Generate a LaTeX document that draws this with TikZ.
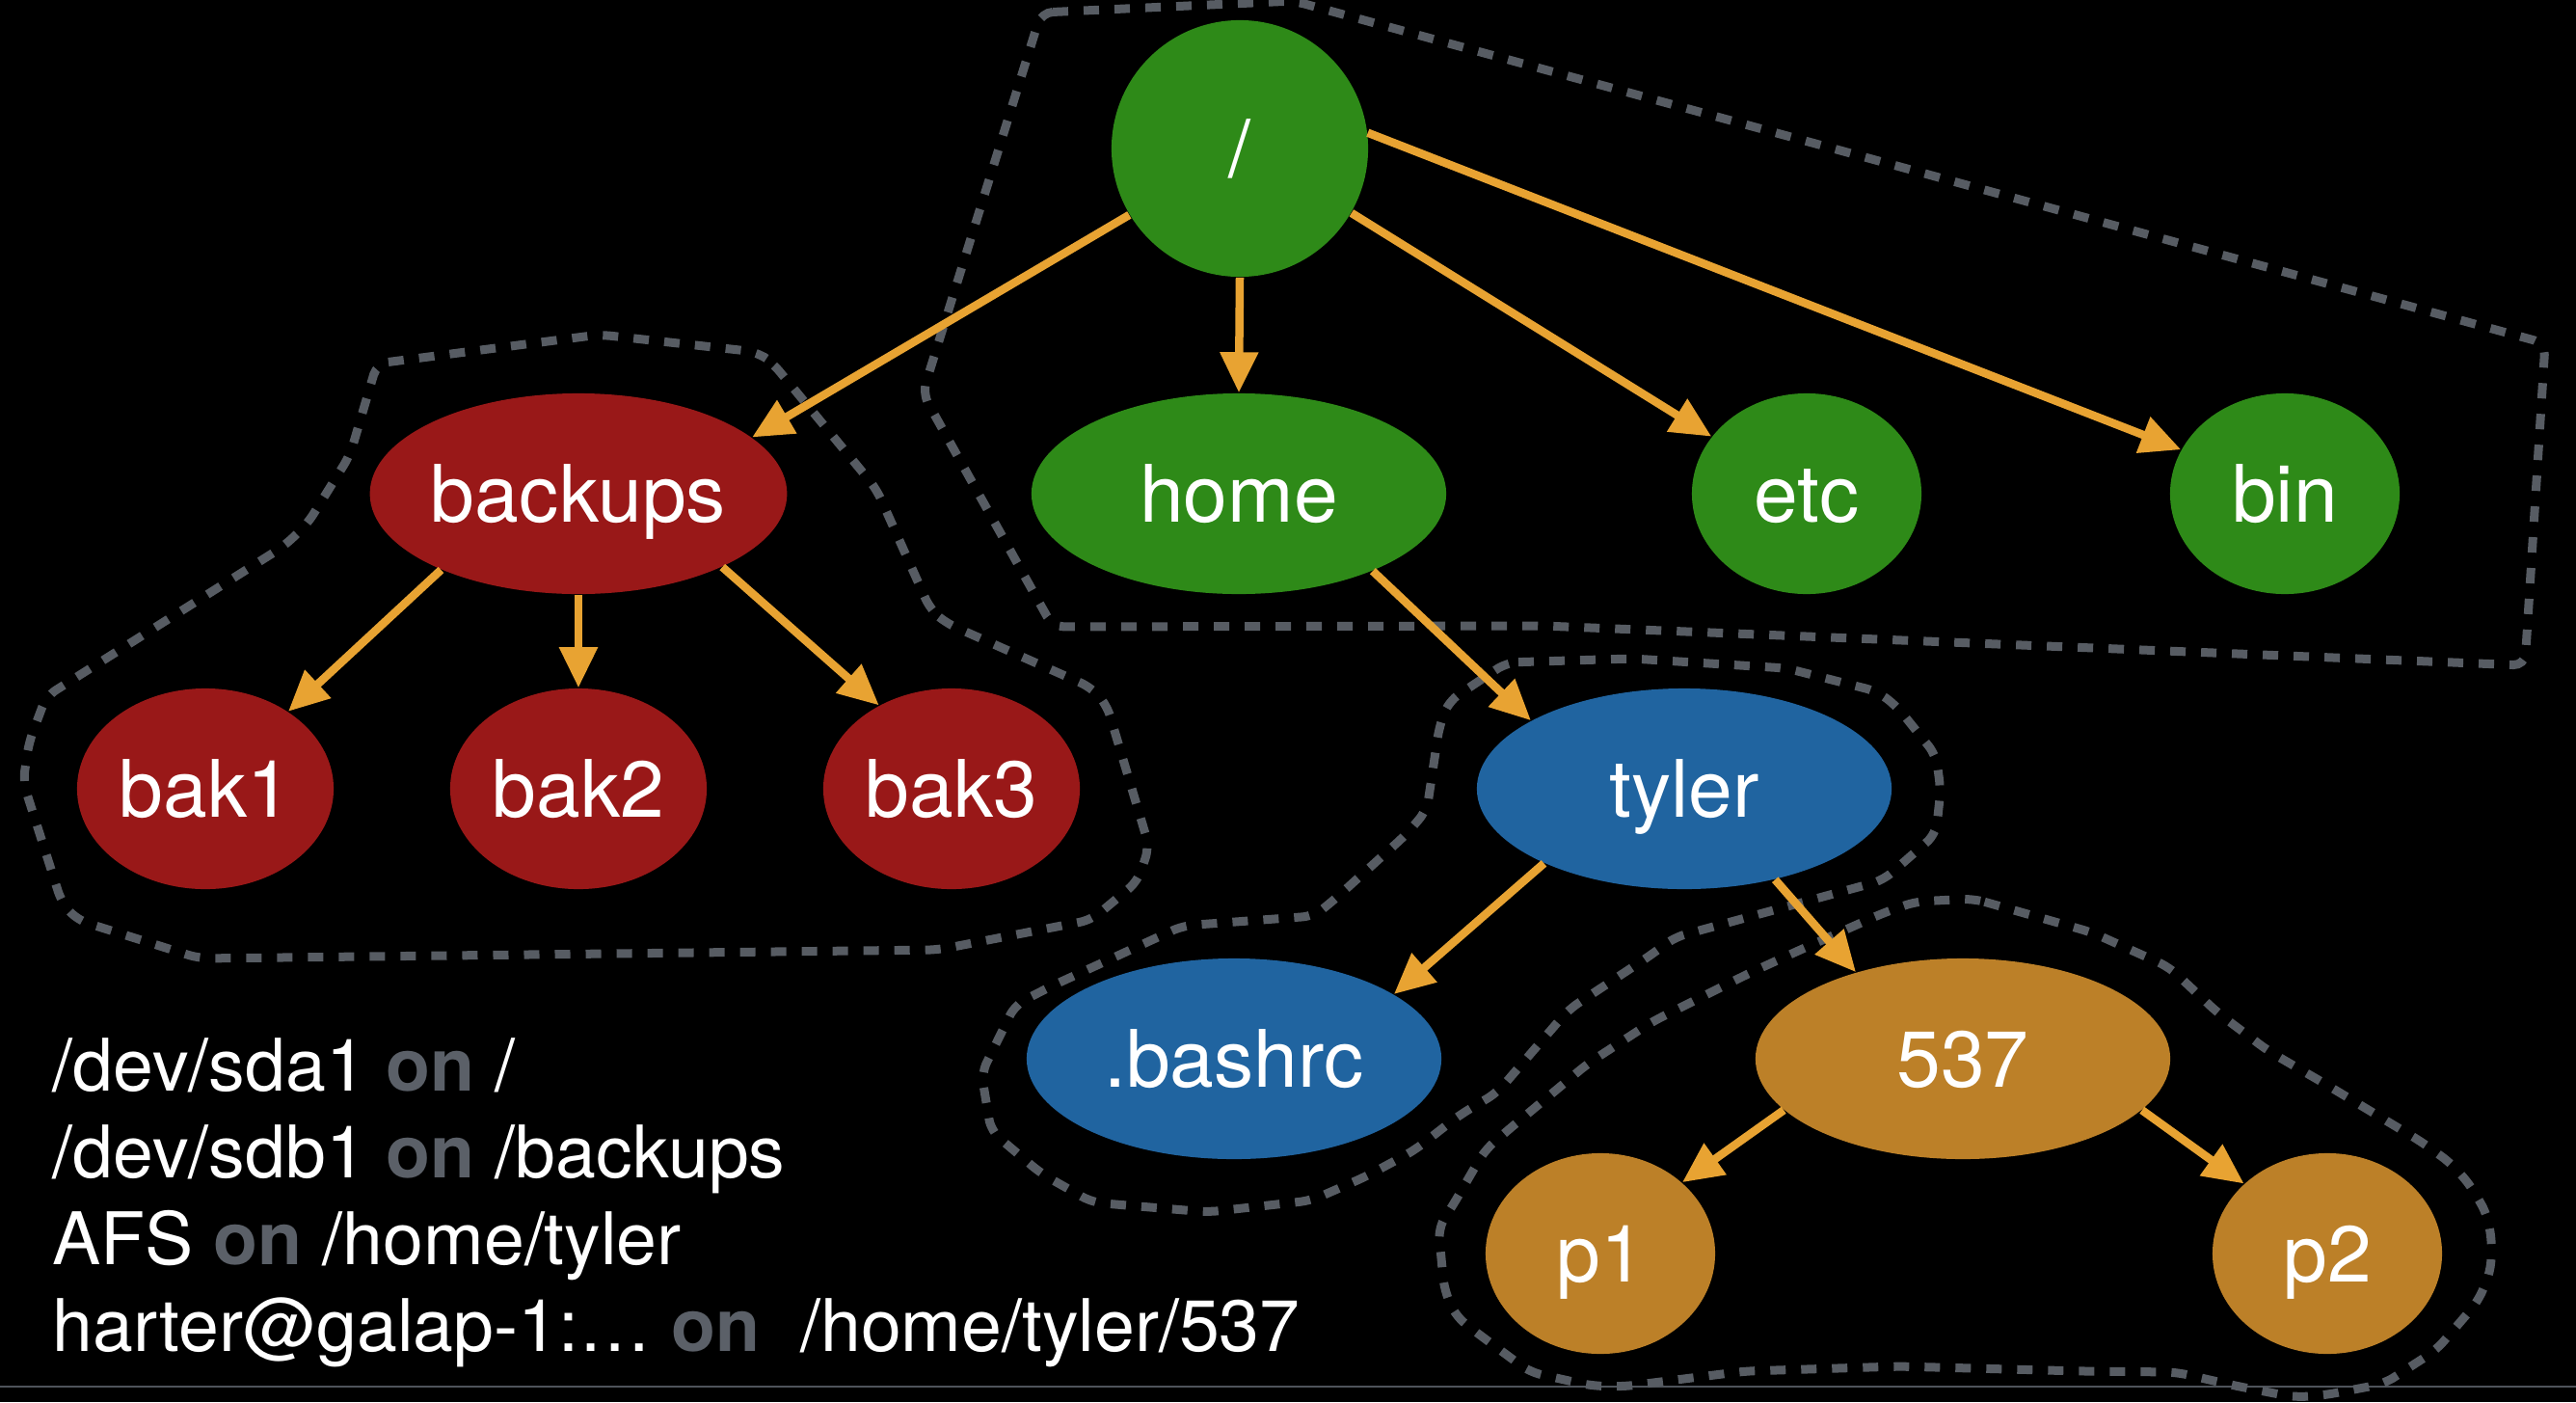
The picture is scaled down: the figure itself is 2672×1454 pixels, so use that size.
\documentclass[tikz,border=0pt]{standalone}
\usepackage{fontspec}
\setmainfont{TeX Gyre Heros}
\usetikzlibrary{shapes.geometric, arrows.meta}

\definecolor{dirgreen}{HTML}{2E8A18}
\definecolor{mntred}{HTML}{991818}
\definecolor{afsblue}{HTML}{2064A0}
\definecolor{sshgold}{HTML}{BC8028}
\definecolor{linkorange}{HTML}{E8A332}
\definecolor{fencegray}{HTML}{575C63}
\definecolor{ongray}{HTML}{5B6068}
\definecolor{rulegray}{HTML}{4E535A}

% grey bold "on" between device and mount point
\newcommand\mnton{{\bfseries\color{ongray}on}}

\begin{document}
\begin{tikzpicture}[x=0.01cm, y=-0.01cm,
  fsnode/.style={ellipse, inner sep=0pt, text=white, text height=0.58cm, text depth=0pt,
                 font=\fontsize{23.4pt}{28pt}\selectfont},
  wide/.style={minimum width=4.3cm, minimum height=2.08cm},
  medium/.style={minimum width=2.66cm, minimum height=2.08cm},
  small/.style={minimum width=2.38cm, minimum height=2.08cm},
  link/.style={draw=linkorange, line width=0.085cm, -{Triangle[length=0.42cm, width=0.38cm]}},
  fence/.style={draw=fencegray, line width=0.09cm, dash pattern=on 0.16cm off 0.16cm,
                rounded corners=0.12cm},
  mount/.style={anchor=base west, inner sep=0pt, text=white,
                font=\fontsize{21.4pt}{25pt}\selectfont},
]
% page background and bottom rule
\fill[black] (0,0) rectangle (2672,1454);
\useasboundingbox (0,0) rectangle (2672,1454);
\draw[rulegray, line width=0.025cm] (0,1438) -- (2672,1438);

% file system boundaries
\draw[fence] (1080,13) -- (1342,1) -- (2640,356) -- (2619,690) -- (1600,649)
  -- (1092,650) -- (957,408) -- cycle;
\draw[fence] (391,377) -- (622,347) -- (785,365) -- (801,376) -- (909,507)
  -- (965,632) -- (981,646) -- (1132,713) -- (1148,731) -- (1192,878) -- (1180,914)
  -- (1132,954) -- (973,985) -- (207,994) -- (80,954) -- (64,936) -- (24,811)
  -- (30,770) -- (48,722) -- (295,566) -- (319,543) -- (363,472) -- cycle;
\draw[fence] (1563,687) -- (1693,683) -- (1853,693) -- (1947,717) -- (1967,732)
  -- (2008,783) -- (2013,819) -- (2008,865) -- (1953,913) -- (1737,972) -- (1713,990)
  -- (1627,1047) -- (1553,1133) -- (1513,1157) -- (1467,1193) -- (1417,1220)
  -- (1360,1245) -- (1253,1257) -- (1133,1247) -- (1080,1217) -- (1028,1173)
  -- (1018,1113) -- (1053,1042) -- (1090,1023) -- (1227,960) -- (1363,950)
  -- (1384,933) -- (1459,865) -- (1480,840) -- (1493,753) -- (1503,727) -- cycle;
\draw[fence] (2047,932) -- (2170,967) -- (2250,1003) -- (2300,1050) -- (2353,1090)
  -- (2410,1123) -- (2513,1185) -- (2543,1207) -- (2563,1230) -- (2580,1260)
  -- (2585,1290) -- (2583,1320) -- (2570,1350) -- (2527,1400) -- (2473,1435)
  -- (2410,1447) -- (2380,1449) -- (2318,1437) -- (2257,1423) -- (2160,1422)
  -- (1970,1417) -- (1810,1422) -- (1683,1438) -- (1650,1437) -- (1587,1423)
  -- (1533,1383) -- (1510,1365) -- (1498,1337) -- (1492,1273) -- (1507,1250)
  -- (1540,1193) -- (1563,1173) -- (1647,1103) -- (1713,1060) -- (1813,1010)
  -- (1863,987) -- (1953,947) -- (1987,935) -- cycle;

% directory tree
\node[fsnode, medium, minimum height=2.66cm, fill=dirgreen] (root) at (1286,154) {/};
\node[fsnode, wide, fill=dirgreen] (home) at (1285,512) {home};
\node[fsnode, small, fill=dirgreen] (etc) at (1874,512) {etc};
\node[fsnode, small, fill=dirgreen] (bin) at (2370,512) {bin};
\node[fsnode, wide, fill=mntred] (backups) at (600,512) {backups};
\node[fsnode, medium, fill=mntred] (bak1) at (213,818) {bak1};
\node[fsnode, medium, fill=mntred] (bak2) at (600,818) {bak2};
\node[fsnode, medium, fill=mntred] (bak3) at (987,818) {bak3};
\node[fsnode, wide, fill=afsblue] (tyler) at (1747,818) {tyler};
\node[fsnode, wide, fill=afsblue] (bashrc) at (1280,1098) {.bashrc};
\node[fsnode, wide, fill=sshgold] (c537) at (2036,1098) {537};
\node[fsnode, small, fill=sshgold] (p1) at (1660,1300) {p1};
\node[fsnode, small, fill=sshgold] (p2) at (2414,1300) {p2};

% parent -> child links
\draw[link] (root.211) -- (backups.18);
\draw[link] (root.270) -- (home.90);
\draw[link] (root.-30) -- (etc.149);
\draw[link] (root.7) -- (bin.157);
\draw[link] (backups.209) -- (bak1.43);
\draw[link] (backups.270) -- (bak2.90);
\draw[link] (backups.-27) -- (bak3.131);
\draw[link] (home.-30) -- (tyler.156);
\draw[link] (tyler.208) -- (bashrc.22);
\draw[link] (tyler.-45) -- (c537.141);
\draw[link] (c537.196) -- (p1.41);
\draw[link] (c537.-16) -- (p2.140);

% mount table
\node[mount] (mnt1) at (54,1131) {/dev/sda1 \mnton{} /};
\node[mount] (mnt2) at (54,1221) {/dev/sdb1 \mnton{} /backups};
\node[mount] (mnt3) at (54,1311) {AFS \mnton{} /home/tyler};
\node[mount] (mnt4) at (54,1401) {harter@galap-1:… \mnton\ \ /home/tyler/537};
\end{tikzpicture}
\end{document}
